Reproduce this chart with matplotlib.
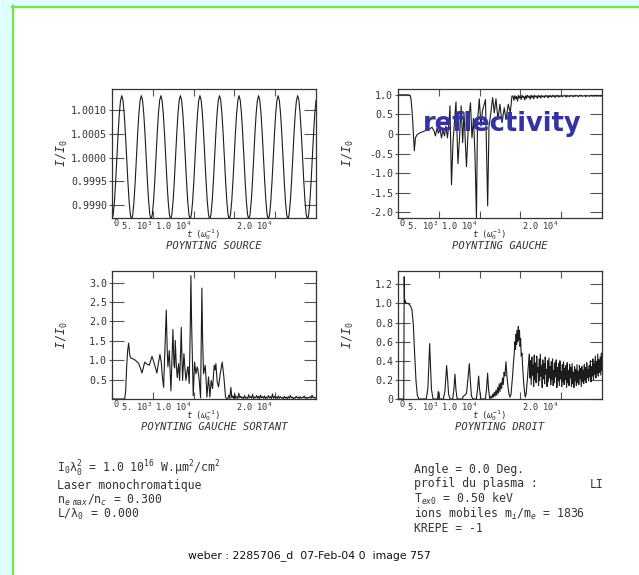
import numpy as np
import matplotlib
matplotlib.use("Agg")
import matplotlib.pyplot as plt
from matplotlib.transforms import ScaledTranslation
from matplotlib.lines import Line2D
from matplotlib.patches import Rectangle

# ---------------- data ----------------
t_max = 25000
x_ticks = [0, 5000, 10000, 15000, 20000]
x_tick_labels = ['0', r'5. 10$^3$', r'1.0 10$^4$', '', r'2.0 10$^4$']

titles = ["POYNTING SOURCE", "POYNTING GAUCHE", "POYNTING GAUCHE SORTANT", "POYNTING DROIT"]

# POYNTING SOURCE (16 samples per oscillation)
source_v = [
    0.99870, 0.99880, 0.99908, 0.99950, 1.00000, 1.00050, 1.00092, 1.00120, 1.00130, 1.00120, 1.00092, 1.00050, 1.00000, 0.99950, 0.99908, 0.99880,
    0.99870, 0.99880, 0.99908, 0.99950, 1.00000, 1.00050, 1.00092, 1.00120, 1.00130, 1.00120, 1.00092, 1.00050, 1.00000, 0.99950, 0.99908, 0.99880,
    0.99870, 0.99880, 0.99908, 0.99950, 1.00000, 1.00050, 1.00092, 1.00120, 1.00130, 1.00120, 1.00092, 1.00050, 1.00000, 0.99950, 0.99908, 0.99880,
    0.99870, 0.99880, 0.99908, 0.99950, 1.00000, 1.00050, 1.00092, 1.00120, 1.00130, 1.00120, 1.00092, 1.00050, 1.00000, 0.99950, 0.99908, 0.99880,
    0.99870, 0.99880, 0.99908, 0.99950, 1.00000, 1.00050, 1.00092, 1.00120, 1.00130, 1.00120, 1.00092, 1.00050, 1.00000, 0.99950, 0.99908, 0.99880,
    0.99870, 0.99880, 0.99908, 0.99950, 1.00000, 1.00050, 1.00092, 1.00120, 1.00130, 1.00120, 1.00092, 1.00050, 1.00000, 0.99950, 0.99908, 0.99880,
    0.99870, 0.99880, 0.99908, 0.99950, 1.00000, 1.00050, 1.00092, 1.00120, 1.00130, 1.00120, 1.00092, 1.00050, 1.00000, 0.99950, 0.99908, 0.99880,
    0.99870, 0.99880, 0.99908, 0.99950, 1.00000, 1.00050, 1.00092, 1.00120, 1.00130, 1.00120, 1.00092, 1.00050, 1.00000, 0.99950, 0.99908, 0.99880,
    0.99870, 0.99880, 0.99908, 0.99950, 1.00000, 1.00050, 1.00092, 1.00120, 1.00130, 1.00120, 1.00092, 1.00050, 1.00000, 0.99950, 0.99908, 0.99880,
    0.99870, 0.99880, 0.99908, 0.99950, 1.00000, 1.00050, 1.00092, 1.00120, 1.00130, 1.00120, 1.00092, 1.00050, 1.00000, 0.99950, 0.99908, 0.99880,
    0.99870, 0.99880, 0.99908, 0.99950, 1.00000, 1.00050, 1.00092, 1.00120,
]
source_yticks = [0.9990, 0.9995, 1.0000, 1.0005, 1.0010]
source_ylabels = ['0.9990', '0.9995', '1.0000', '1.0005', '1.0010']

# POYNTING GAUCHE
gauche_t = [0, 1225, 1470, 1593, 1715, 1838, 2000, 2140, 2330, 2700,
            3060, 3430, 3800, 4165, 4410, 4590, 4780, 4960, 5145, 5330,
            5510, 5700, 5880, 6065, 6250, 6370, 6555, 6740, 6920, 7105,
            7350, 7595, 7740, 7925, 8085, 8390, 8640, 8880, 9065, 9250,
            9430, 9615, 9740, 9960, 10170, 10350, 10570, 10720, 10990, 11150,
            11330, 11600, 11800, 12005, 12250, 12495, 12740, 13020, 13230, 13510,
            13760, 13965]
gauche_v = [1.0, 1.0, 0.99, 0.9, 0.6, 0.2, -0.43, -0.1, -0.02, 0.03,
            0.06, 0.09, 0.12, 0.17, 0.08, -0.05, 0.15, 0.02, 0.13, -0.1,
            0.1, -0.05, 0.2, -0.1, 0.3, 0.72, -1.3, -0.2, 0.3, 0.82,
            -0.76, 0.1, 0.72, -0.22, 0.55, -0.84, 0.29, 0.8, -0.1, 0.4,
            -0.5, -2.14, 0.3, 0.9, 0.2, 0.6, 0.76, 0.88, -1.84, 0.2,
            0.46, 0.93, 0.54, 0.9, 0.37, 0.76, 0.29, 0.67, 0.37, 0.76,
            0.54, 0.97]
gauche_tail = [
    0.97, 0.86, 0.98, 0.90, 0.96, 0.84, 0.99, 0.92, 0.97, 0.88, 0.99, 0.93, 0.96, 0.87, 0.98, 0.91, 0.99, 0.94, 0.97, 0.89,
    0.99, 0.93, 0.98, 0.90, 0.99, 0.95, 0.97, 0.91, 0.99, 0.94, 0.98, 0.92, 0.99, 0.95, 0.97, 0.93, 0.99, 0.96, 0.98, 0.92,
    0.99, 0.95, 0.98, 0.94, 0.99, 0.96, 0.98, 0.93, 0.99, 0.96, 0.99, 0.94, 0.98, 0.96, 0.99, 0.95, 0.98, 0.97, 0.99, 0.94,
    0.99, 0.96, 0.98, 0.95, 0.99, 0.97, 0.98, 0.95, 0.99, 0.96, 0.99, 0.97, 0.98, 0.95, 0.99, 0.97, 0.99, 0.96, 0.98, 0.97,
    0.99, 0.95, 0.99, 0.97, 0.98, 0.96, 0.99, 0.97, 0.99, 0.96, 0.98, 0.97, 0.99, 0.96, 0.99, 0.97, 0.98, 0.96, 0.99, 0.97,
]
gauche_tail_start = 14100
gauche_yticks = [-2.0, -1.5, -1.0, -0.5, 0.0, 0.5, 1.0]
gauche_ylabels = ['-2.0', '-1.5', '-1.0', '-0.5', '0', '0.5', '1.0']

# POYNTING GAUCHE SORTANT
sortant_t = [0, 1550, 1673, 1795, 1918, 2040, 2162, 2285, 2530, 2856,
             3264, 3509, 3672, 3835, 3998, 4284, 4570, 4733, 4896, 5059,
             5222, 5508, 5671, 5875, 6038, 6161, 6324, 6487, 6650, 6773,
             6854, 7018, 7140, 7222, 7344, 7466, 7589, 7670, 7752, 7874,
             7997, 8160, 8282, 8405, 8486, 8568, 8650, 8813, 8935, 9058,
             9221, 9302, 9466, 9588, 9670, 9751, 9833, 9955, 10118, 10282,
             10445, 10567, 10690, 10853, 10934, 11016, 11098, 11220, 11424, 11546,
             11628, 11832, 11995, 12158, 12322, 12526, 12648, 12730, 12893, 13056,
             13260, 13505, 13709, 13913, 14076]
sortant_v = [0.0, 0.0, 0.2, 0.83, 1.25, 1.44, 1.15, 1.06, 1.04, 1.0,
             0.92, 0.78, 0.67, 0.8, 0.95, 0.9, 0.87, 0.98, 1.1, 1.0,
             0.88, 0.67, 0.9, 1.15, 0.95, 0.6, 0.3, 1.3, 2.29, 1.2,
             0.83, 1.25, 0.6, 0.21, 1.0, 1.79, 0.9, 0.8, 1.51, 0.9,
             0.55, 0.91, 0.48, 1.2, 1.85, 1.1, 0.48, 1.17, 0.8, 0.48,
             0.75, 0.83, 0.4, 1.8, 3.18, 2.0, 1.25, 0.08, 0.95, 0.65,
             0.83, 0.7, 0.48, 0.03, 1.5, 2.86, 1.6, 0.65, 0.87, 0.45,
             0.05, 0.57, 0.05, 0.48, 0.27, 0.87, 0.75, 0.91, 0.44, 0.31,
             0.65, 0.95, 0.57, 0.05, 0.0]
sortant_tail = [
    0.02, 0.10, 0.01, 0.30, 0.03, 0.08, 0.01, 0.12, 0.02, 0.06, 0.01, 0.15, 0.03, 0.07, 0.02, 0.05, 0.01, 0.09, 0.02, 0.04,
    0.01, 0.11, 0.03, 0.06, 0.02, 0.12, 0.01, 0.05, 0.03, 0.09, 0.02, 0.07, 0.01, 0.10, 0.03, 0.06, 0.02, 0.08, 0.01, 0.05,
    0.02, 0.09, 0.03, 0.06, 0.01, 0.13, 0.02, 0.07, 0.03, 0.05, 0.01, 0.08, 0.02, 0.06, 0.03, 0.04, 0.01, 0.07, 0.02, 0.05,
    0.01, 0.06, 0.02, 0.09, 0.03, 0.05, 0.01, 0.04, 0.02, 0.07, 0.03, 0.05, 0.01, 0.06, 0.02, 0.04, 0.03, 0.08, 0.02, 0.05,
    0.01, 0.04, 0.03, 0.06, 0.02, 0.10, 0.03, 0.05, 0.02, 0.04,
]
sortant_tail_start = 14200
sortant_yticks = [0.5, 1.0, 1.5, 2.0, 2.5, 3.0]
sortant_ylabels = ['0.5', '1.0', '1.5', '2.0', '2.5', '3.0']

# POYNTING DROIT
droit_t = [0, 700, 760, 810, 880, 1000, 1200, 1400, 1550, 1715,
           1878, 2042, 2205, 2368, 2550, 3450, 3650, 3780, 3880, 3980,
           4100, 4300, 4850, 4940, 5030, 5550, 5750, 5880, 5960, 6050,
           6200, 6400, 6700, 6850, 6980, 7100, 7250, 7900, 8000, 8200,
           8400, 8560, 8740, 8860, 9000, 9200, 9600, 9750, 9880, 10000,
           10150, 10700, 10850, 10980, 11100, 11250, 11400, 11500, 11600, 11700,
           11800, 11900, 12000, 12100, 12200, 12300, 12400, 12500, 12600, 12700,
           12800, 12900, 13000, 13100, 13230, 13330, 13450, 13580, 13720, 13850,
           13950, 14050, 14150, 14250, 14330, 14400, 14470, 14540, 14610, 14680,
           14750, 14820, 14890, 14960, 15030, 15100, 15190, 15300, 15400, 15500,
           15600, 15700, 15850, 16000]
droit_v = [0.0, 0.0, 1.28, 1.01, 1.03, 1.00, 1.00, 0.99, 0.97, 0.93,
           0.78, 0.47, 0.19, 0.04, 0.0, 0.0, 0.10, 0.35, 0.58, 0.35,
           0.10, 0.0, 0.0, 0.08, 0.0, 0.0, 0.08, 0.25, 0.35, 0.25,
           0.05, 0.0, 0.0, 0.10, 0.26, 0.10, 0.0, 0.0, 0.03, 0.04,
           0.06, 0.20, 0.37, 0.20, 0.03, 0.0, 0.0, 0.10, 0.24, 0.10,
           0.0, 0.0, 0.10, 0.27, 0.10, 0.0, 0.03, 0.01, 0.05, 0.02,
           0.07, 0.03, 0.09, 0.04, 0.12, 0.06, 0.16, 0.08, 0.17, 0.11,
           0.22, 0.15, 0.28, 0.24, 0.39, 0.26, 0.15, 0.06, 0.02, 0.05,
           0.15, 0.25, 0.38, 0.48, 0.60, 0.52, 0.68, 0.57, 0.72, 0.60,
           0.76, 0.62, 0.72, 0.55, 0.63, 0.45, 0.48, 0.30, 0.17, 0.08,
           0.02, 0.05, 0.20, 0.38]
droit_band = [
    0.47, 0.22, 0.40, 0.15, 0.44, 0.25, 0.36, 0.13, 0.46, 0.20, 0.38, 0.17, 0.45, 0.28, 0.33, 0.14, 0.42, 0.19, 0.47, 0.24,
    0.35, 0.12, 0.41, 0.21, 0.37, 0.16, 0.44, 0.26, 0.31, 0.13, 0.40, 0.18, 0.43, 0.22, 0.34, 0.15, 0.39, 0.20, 0.42, 0.14,
    0.30, 0.17, 0.38, 0.23, 0.41, 0.12, 0.33, 0.19, 0.37, 0.14, 0.40, 0.21, 0.29, 0.13, 0.36, 0.18, 0.39, 0.15, 0.32, 0.20,
    0.35, 0.12, 0.38, 0.17, 0.30, 0.14, 0.36, 0.22, 0.33, 0.13, 0.37, 0.16, 0.28, 0.12, 0.34, 0.19, 0.31, 0.14, 0.36, 0.17,
    0.29, 0.15, 0.35, 0.21, 0.32, 0.13, 0.34, 0.18, 0.30, 0.16, 0.36, 0.20, 0.33, 0.17, 0.38, 0.22, 0.31, 0.19, 0.35, 0.23,
    0.40, 0.18, 0.34, 0.24, 0.42, 0.20, 0.37, 0.26, 0.45, 0.22, 0.39, 0.27, 0.47, 0.24, 0.41, 0.28, 0.44, 0.25, 0.48, 0.30,
]
droit_band_start = 16100
droit_yticks = [0.0, 0.2, 0.4, 0.6, 0.8, 1.0, 1.2]
droit_ylabels = ['0', '0.2', '0.4', '0.6', '0.8', '1.0', '1.2']

info_left = [r"I$_0$λ$_0^2$ = 1.0 10$^{16}$ W.μm$^2$/cm$^2$",
             "Laser monochromatique",
             r"n$_{e\ \ max}$/n$_c$ = 0.300",
             r"L/λ$_0$ = 0.000"]
info_right = ["Angle = 0.0 Deg.",
              "profil du plasma :",
              r"T$_{ex0}$ = 0.50 keV",
              r"ions mobiles m$_i$/m$_e$ = 1836",
              "KREPE = -1"]
profile_name = "LI"
footer = "weber : 2285706_d  07-Feb-04 0  image 757"
overlay = "reflectivity"

# ---------------- figure ----------------
plt.rcParams['font.family'] = ['DejaVu Sans Mono', 'DejaVu Sans']
plt.rcParams['mathtext.fontset'] = 'custom'
plt.rcParams['mathtext.rm'] = 'DejaVu Sans Mono'
plt.rcParams['mathtext.it'] = 'DejaVu Sans Mono:oblique'
plt.rcParams['mathtext.bf'] = 'DejaVu Sans Mono:bold'

W, H = 639, 575
fig = plt.figure(figsize=(W / 100, H / 100), dpi=100, facecolor='#e0ffff')

fig.add_artist(Rectangle((13 / W, 0), 1 - 13 / W, 1 - 7 / H, transform=fig.transFigure,
                         facecolor='white', edgecolor='none', zorder=-3))
green = '#66ee44'
fig.add_artist(Line2D([12.5 / W, 12.5 / W], [0, 1 - 6 / H], color=green, lw=1.6,
                      transform=fig.transFigure, zorder=-2))
fig.add_artist(Line2D([11.7 / W, 1], [1 - 6.7 / H, 1 - 6.7 / H], color=green, lw=1.6,
                      transform=fig.transFigure, zorder=-2))

TXT = '#333333'
TICK = '#555555'
LINE = '#1c1c1c'


def make_axes(left, top, bottom):
    return fig.add_axes([left / W, 1 - bottom / H, 204 / W, (bottom - top) / H])


def style(ax, yticks, ylabels, ylim, title, h_px, xlab_px, title_px):
    ax.set_facecolor('white')
    ax.set_xlim(0, t_max)
    ax.set_ylim(*ylim)
    ax.set_xticks(x_ticks)
    ax.set_xticklabels(x_tick_labels, fontsize=6.2, color=TXT)
    ax.set_yticks(yticks)
    ax.set_yticklabels(ylabels, fontsize=7.2, color=TXT)
    ax.set_yticks(yticks, minor=True)
    ax.yaxis.remove_overlapping_locs = False
    ax.tick_params(axis='x', which='major', direction='in', top=True, bottom=True,
                   length=5, width=0.8, color=TICK, pad=1.0)
    ax.tick_params(axis='y', which='major', direction='in', left=True, right=True,
                   length=8.3, width=0.8, color=TICK, pad=3.6)
    ax.tick_params(axis='y', which='minor', direction='out', left=True, right=False,
                   length=2.5, width=0.8, color=TICK, labelleft=False)
    for s in ax.spines.values():
        s.set_color('#333333')
        s.set_linewidth(0.9)
    ax.set_ylabel(r'$I/I_0$', fontsize=8.5, color=TXT)
    ax.yaxis.set_label_coords(-0.245, 0.5)
    ax.yaxis.label.set_va('center')
    ax.set_xlabel(r'$t\ \ (\omega_0^{-1})$', fontsize=6.5, color=TXT)
    ax.xaxis.set_label_coords(0.445, -xlab_px / h_px)
    ax.xaxis.label.set_va('center')
    ax.text(0.5, -title_px / h_px, title, transform=ax.transAxes, ha='center', va='center',
            fontsize=7.6, style='italic', color=TXT)
    offs = [('left', 1), ('right', -1), ('right', -2), ('right', 0), ('right', -3)]
    for lab, (ha, dx) in zip(ax.get_xticklabels(), offs):
        lab.set_ha(ha)
        lab.set_transform(lab.get_transform() + ScaledTranslation(dx / 100, 0, fig.dpi_scale_trans))


ax1 = make_axes(112, 89, 218)
ax1.plot(np.linspace(0, t_max, len(source_v)), source_v, color=LINE, lw=0.8)
style(ax1, source_yticks, source_ylabels, (0.99873, 1.00144), titles[0], 129, 16.5, 28)

ax2 = make_axes(398, 89, 218)
g_t = np.concatenate([gauche_t, np.linspace(gauche_tail_start, t_max, len(gauche_tail))])
g_v = np.concatenate([gauche_v, gauche_tail])
ax2.plot(g_t, g_v, color=LINE, lw=0.8)
style(ax2, gauche_yticks, gauche_ylabels, (-2.15, 1.15), titles[1], 129, 16.5, 28)

ax3 = make_axes(112, 271, 399)
s_t = np.concatenate([sortant_t, np.linspace(sortant_tail_start, t_max, len(sortant_tail))])
s_v = np.concatenate([sortant_v, sortant_tail])
ax3.plot(s_t, s_v, color=LINE, lw=0.8)
style(ax3, sortant_yticks, sortant_ylabels, (0.0, 3.3), titles[2], 128, 16.5, 28)

ax4 = make_axes(398, 271, 399)
d_t = np.concatenate([droit_t, np.linspace(droit_band_start, t_max, len(droit_band))])
d_v = np.concatenate([droit_v, droit_band])
ax4.plot(d_t, d_v, color=LINE, lw=0.8)
style(ax4, droit_yticks, droit_ylabels, (0.0, 1.34), titles[3], 128, 16.5, 28)

# information block
left_y = [469, 485, 500, 514]
right_y = [469, 484, 499, 514, 529]
for s, y in zip(info_left, left_y):
    fig.text(57 / W, 1 - (y + 3.5) / H, s, ha='left', va='baseline', fontsize=8.3, color=TXT)
for s, y in zip(info_right, right_y):
    fig.text(414 / W, 1 - (y + 3.5) / H, s, ha='left', va='baseline', fontsize=8.3, color=TXT)
fig.text(590 / W, 1 - (484 + 3.5) / H, profile_name, ha='left', va='baseline', fontsize=8.3, color=TXT)

fig.text(309 / W, 1 - 556 / H, footer, ha='center', va='center', fontsize=7.8,
         family='DejaVu Sans', color='#111111')

fig.text(502 / W, 1 - 131 / H, overlay, ha='center', va='baseline', fontsize=18.5,
         fontweight='bold', family='DejaVu Sans', color='#3333a3', zorder=10)

fig.savefig('out.png', dpi=100, facecolor=fig.get_facecolor())
